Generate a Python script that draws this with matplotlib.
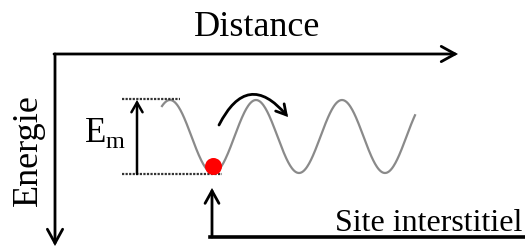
import numpy as np
import matplotlib
matplotlib.use("Agg")
from matplotlib import pyplot as plt

plt.rcParams["font.family"] = ["Liberation Serif", "DejaVu Serif"]
plt.rcParams["mathtext.fontset"] = "custom"
plt.rcParams["mathtext.rm"] = "Liberation Serif"

# diagram layout in picture pixels (x to the right, y downwards)
axis_origin = (55, 54)
axis_x_end = 458
axis_y_end = 246

# energy landscape: a cosine between the barrier top and the site bottom
wave_start, wave_end = 162, 415
wave_first_peak = 170
wave_period = 86
e_top, e_bottom = 100, 173

em_arrow_x = 137
dot_pos = (213, 166)
site_line_y = 237
site_arrow_top = 188

labels = {"x": "Distance", "y": "Energie", "em": r"E$_{\mathrm{m}}$", "site": "Site interstitiel"}

fig = plt.figure(figsize=(5.25, 2.48), dpi=100)
ax = fig.add_axes([0, 0, 1, 1])
ax.set_xlim(0, 525)
ax.set_ylim(248, 0)
ax.axis("off")

def arrow(p0, p1, lw=2.0, style="->,head_length=9,head_width=5", conn="arc3"):
    ax.annotate("", xy=p1, xytext=p0,
                arrowprops=dict(arrowstyle=style, lw=lw, color="black",
                                shrinkA=0, shrinkB=0, mutation_scale=1,
                                connectionstyle=conn, joinstyle="miter"))

# axes
ox, oy = axis_origin
arrow((ox - 1, oy), (axis_x_end, oy), style="->,head_length=10,head_width=5.5")
arrow((ox, oy), (ox, axis_y_end), style="->,head_length=10,head_width=5.5")
ax.text(257, 27, labels["x"], fontsize=26, ha="center", va="center")
ax.text(28, 150, labels["y"], fontsize=26, ha="center", va="center", rotation=90)

# wave
xs = np.linspace(wave_start, wave_end, 400)
mid = (e_top + e_bottom) / 2
amp = (e_bottom - e_top) / 2
ys = mid - amp * np.cos(2 * np.pi * (xs - wave_first_peak) / wave_period)
ax.plot(xs, ys, color="#8a8a8a", lw=1.6)

# barrier height
ax.plot([122, 180], [e_top - 1, e_top - 1], color="#333333", lw=1.6, dashes=(1, 0.6))
ax.plot([122, 222], [e_bottom + 1, e_bottom + 1], color="#333333", lw=1.6, dashes=(1, 0.6))
arrow((em_arrow_x, e_bottom + 1), (em_arrow_x, e_top), lw=1.8,
      style="->,head_length=7,head_width=4")
ax.text(84, 133, labels["em"], fontsize=25, ha="left", va="center")

# atom and jump
ax.scatter([dot_pos[0]], [dot_pos[1]], s=150, color="red", zorder=5, linewidths=0)
arrow((219, 125), (288, 117), lw=2.0, style="->,head_length=7,head_width=4",
      conn="arc3,rad=-0.75")

# interstitial site
arrow((212, site_line_y), (212, site_arrow_top), lw=2.0)
ax.plot([210, 525], [site_line_y, site_line_y], color="black", lw=2.6)
ax.text(522, 231, labels["site"], fontsize=23, ha="right", va="baseline")

fig.savefig("out.png", dpi=100)
